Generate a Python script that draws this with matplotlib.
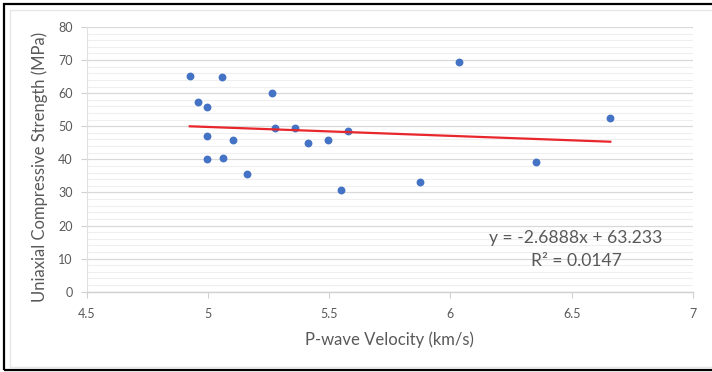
import matplotlib
matplotlib.use("Agg")
import matplotlib.pyplot as plt
from matplotlib.patches import Rectangle
from matplotlib.ticker import MultipleLocator
import numpy as np

plt.rcParams['font.family'] = ['Lato', 'DejaVu Sans']

# Data
velocity = [4.925, 5.057, 5.265, 4.957, 4.995, 4.995, 5.105, 4.995, 5.061, 5.163,
            5.275, 5.358, 5.412, 5.494, 5.578, 5.548, 6.036, 6.659, 6.352, 5.874]
ucs = [65.2, 64.9, 60.1, 57.2, 55.7, 47.2, 45.7, 40.0, 40.3, 35.7,
       49.5, 49.6, 45.0, 45.7, 48.5, 30.7, 69.3, 52.6, 39.1, 33.3]
slope = -2.6888
intercept = 63.233
r2 = 0.0147
x_ticks = [4.5, 5, 5.5, 6, 6.5, 7]
x_tick_labels = ["4.5", "5", "5.5", "6", "6.5", "7"]
y_ticks = [0, 10, 20, 30, 40, 50, 60, 70, 80]

W, H = 712, 372
fig = plt.figure(figsize=(W / 100, H / 100), dpi=100)
fig.patch.set_facecolor("white")

# Frames
fig.add_artist(Rectangle((3.5 / W, 1 - 370 / H), 1.2, (370 - 4) / H,
                         transform=fig.transFigure, fill=False,
                         edgecolor="black", linewidth=1.6))
fig.add_artist(Rectangle((9.5 / W, 1 - 366.5 / H), 1.2, (366.5 - 9.5) / H,
                         transform=fig.transFigure, fill=False,
                         edgecolor="#e6e6e6", linewidth=1.0))

left, right = 86.7 / W, 693 / W
top, bottom = 1 - 27 / H, 1 - 291.7 / H
ax = fig.add_axes([left, bottom, right - left, top - bottom])

text_color = "#595959"
ax.set_xlim(4.5, 7)
ax.set_ylim(0, 80)
ax.set_xticks(x_ticks)
ax.set_xticklabels(x_tick_labels)
ax.set_yticks(y_ticks)
ax.yaxis.set_minor_locator(MultipleLocator(2))

ax.grid(True, which="major", axis="y", color="#d9d9d9", linewidth=0.9)
ax.grid(True, which="minor", axis="y", color="#efefef", linewidth=0.8)
ax.set_axisbelow(True)

for s in ["top", "right"]:
    ax.spines[s].set_visible(False)
ax.spines["bottom"].set_color("#d0d0d0")
ax.spines["left"].set_color("#e0e0e0")
ax.spines["bottom"].set_linewidth(1.0)
ax.spines["left"].set_linewidth(0.8)

ax.tick_params(axis="both", which="major", labelsize=9, colors="#d0d0d0",
               labelcolor=text_color, length=4, width=0.8)
ax.tick_params(axis="y", which="minor", length=0)
ax.tick_params(axis="y", pad=6)
ax.tick_params(axis="x", pad=8)

ax.scatter(velocity, ucs, s=32, color="#4472C4", zorder=3, linewidths=0)

xs = np.array([min(velocity), max(velocity)])
ax.plot(xs, slope * xs + intercept, color="#e8262b", linewidth=1.6, zorder=4)

ax.set_xlabel("P-wave Velocity (km/s)", fontsize=12, color=text_color, labelpad=8)
ax.set_ylabel("Uniaxial Compressive Strength (MPa)", fontsize=12, color=text_color)
ax.yaxis.set_label_coords(-0.064, 0.47)

ax.text(6.518, 16.2, f"y = {slope}x + {intercept}", fontsize=12.6, color=text_color,
        ha="center", va="center", zorder=5)
ax.text(6.518, 9.3, f"R² = {r2}", fontsize=12.6, color=text_color,
        ha="center", va="center", zorder=5)

fig.savefig("out.png", dpi=100, facecolor="white")
